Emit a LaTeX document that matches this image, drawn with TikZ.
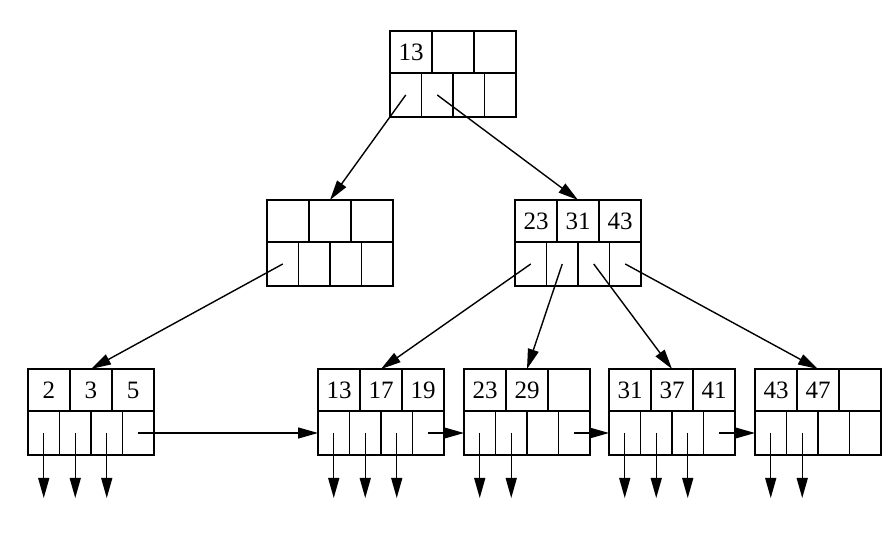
\documentclass[tikz,border=0pt]{standalone}
\usepackage{fontspec}
\setmainfont{Liberation Serif}
\usetikzlibrary{positioning,arrows.meta}

\tikzset{
  keybox/.style={draw, line width=0.9pt, minimum width=21pt, minimum height=21pt,
    inner sep=0pt, outer sep=0pt, font=\fontsize{12.5}{14}\selectfont},
  ptrbox/.style={draw, line width=0.9pt, minimum width=15.75pt, minimum height=22pt,
    inner sep=0pt, outer sep=0pt},
  link/.style={line width=0.7pt, -{Triangle[length=10pt,width=5.5pt]}}
}

\newcommand{\bnode}[5]{%
  \node[keybox, anchor=north west] (#1k1) at (#2) {#3};
  \node[keybox, right=0pt of #1k1] (#1k2) {#4};
  \node[keybox, right=0pt of #1k2] (#1k3) {#5};
  \node[ptrbox, anchor=north west] (#1p1) at (#1k1.south west) {};
  \node[ptrbox, right=0pt of #1p1] (#1p2) {};
  \node[ptrbox, right=0pt of #1p2] (#1p3) {};
  \node[ptrbox, right=0pt of #1p3] (#1p4) {};
}

\begin{document}
\begin{tikzpicture}[x=0.5pt, y=-0.5pt]
  \useasboundingbox (0,0) rectangle (891,539);
  \bnode{r}{390,31}{13}{}{}
  \bnode{s}{267,200}{}{}{}
  \bnode{t}{515,200}{23}{31}{43}
  \bnode{a}{28,369}{2}{3}{5}
  \bnode{b}{318,369}{13}{17}{19}
  \bnode{c}{464,369}{23}{29}{}
  \bnode{d}{609,369}{31}{37}{41}
  \bnode{e}{755,369}{43}{47}{}
  \coordinate (bot) at (0,498);
  \draw [link] (rp1.center) to (sk2.north);
  \draw [link] (rp2.center) to (tk2.north);
  \draw [link] (sp1.center) to (ak2.north);
  \draw [link] (tp1.center) to (bk2.north);
  \draw [link] (tp2.center) to (ck2.north);
  \draw [link] (tp3.center) to (dk2.north);
  \draw [link] (tp4.center) to (ek2.north);
  \draw [link] (ap4.center) to (bp1.west);
  \draw [link] (bp4.center) to (cp1.west);
  \draw [link] (cp4.center) to (dp1.west);
  \draw [link] (dp4.center) to (ep1.west);
  \draw [link] (ap1.center) to (ap1 |- bot);
  \draw [link] (ap2.center) to (ap2 |- bot);
  \draw [link] (ap3.center) to (ap3 |- bot);
  \draw [link] (bp1.center) to (bp1 |- bot);
  \draw [link] (bp2.center) to (bp2 |- bot);
  \draw [link] (bp3.center) to (bp3 |- bot);
  \draw [link] (cp1.center) to (cp1 |- bot);
  \draw [link] (cp2.center) to (cp2 |- bot);
  \draw [link] (dp1.center) to (dp1 |- bot);
  \draw [link] (dp2.center) to (dp2 |- bot);
  \draw [link] (dp3.center) to (dp3 |- bot);
  \draw [link] (ep1.center) to (ep1 |- bot);
  \draw [link] (ep2.center) to (ep2 |- bot);
\end{tikzpicture}
\end{document}
